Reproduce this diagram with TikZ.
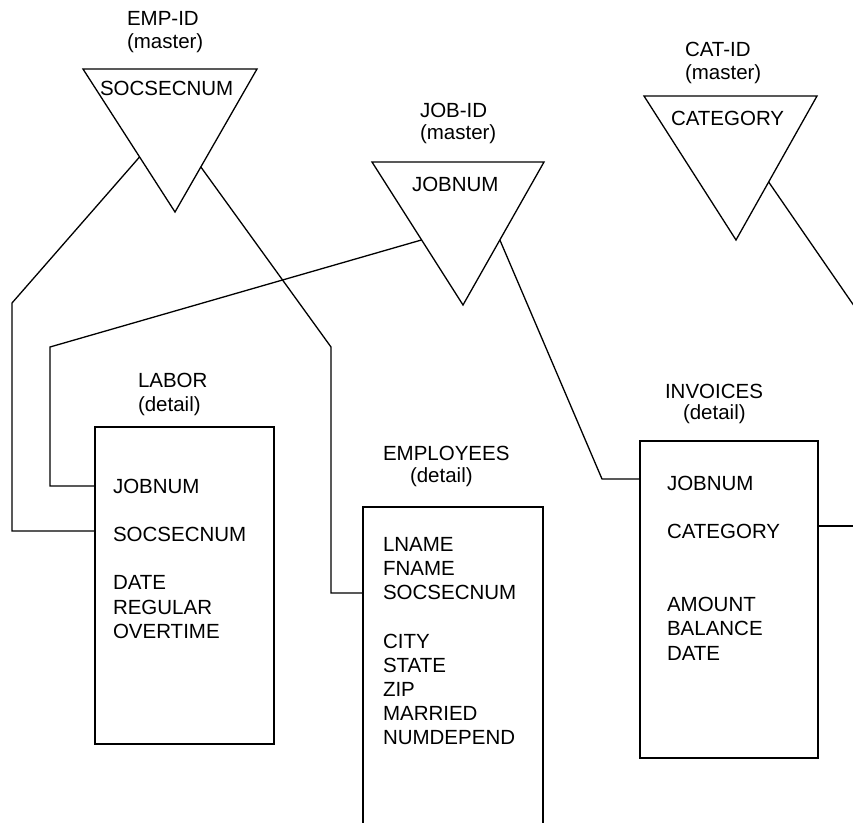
\documentclass[tikz,border=0pt]{standalone}
\usepackage{fontspec}
\setmainfont{Liberation Sans}
\usetikzlibrary{calc}
\newcommand\fldfont{\fontsize{20.5}{24}\selectfont}
\tikzset{
  lbl/.style={font=\fldfont, inner sep=0pt, outer sep=0pt, anchor=base west},
  tbl/.style={draw, line width=1.3pt, inner sep=0pt, outer sep=0pt},
  link/.style={line width=1.3pt, line join=miter},
  tri/.style={line width=1.3pt, line join=miter}
}
\begin{document}
\begin{tikzpicture}[x=1pt, y=-1pt]
\useasboundingbox (0,0) rectangle (853,822);
\clip (0,0) rectangle (853,822);

% ---------- master triangles ----------
\coordinate (emp-tl) at (83,69);
\coordinate (emp-tr) at (257,69);
\coordinate (emp-ap) at (175,212);
\draw[tri] (emp-tl) -- (emp-tr) -- (emp-ap) -- cycle;
\node[lbl] (emp-t1) at (127,25) {EMP-ID};
\node[lbl] (emp-t2) at (127,48) {(master)};
\node[lbl] (emp-key) at (100,95) {SOCSECNUM};

\coordinate (job-tl) at (372,162);
\coordinate (job-tr) at (544,162);
\coordinate (job-ap) at (463,305);
\draw[tri] (job-tl) -- (job-tr) -- (job-ap) -- cycle;
\node[lbl] (job-t1) at (420,117) {JOB-ID};
\node[lbl] (job-t2) at (420,139) {(master)};
\node[lbl] (job-key) at (412,191.5) {JOBNUM};

\coordinate (cat-tl) at (644,96);
\coordinate (cat-tr) at (817,96);
\coordinate (cat-ap) at (736,240);
\draw[tri] (cat-tl) -- (cat-tr) -- (cat-ap) -- cycle;
\node[lbl] (cat-t1) at (685,56.5) {CAT-ID};
\node[lbl] (cat-t2) at (685,79) {(master)};
\node[lbl] (cat-key) at (671,125) {CATEGORY};

% ---------- detail boxes ----------
\node[tbl, minimum width=179pt, minimum height=317pt] (labor) at (184.5,585.5) {};
\node[lbl] (lab-t1) at (138,387.5) {LABOR};
\node[lbl] (lab-t2) at (138,411.5) {(detail)};
\node[lbl] (lab-job) at (113,493.3) {JOBNUM};
\node[lbl] (lab-ssn) at (113,541.3) {SOCSECNUM};
\foreach \t [count=\i] in {DATE,REGULAR,OVERTIME}
  \node[lbl] (lab-f\i) at (113,{565+24.5*\i}) {\t};

\node[tbl, minimum width=180pt, minimum height=343pt] (employees) at (453,678.5) {};
\node[lbl] (emp-d1) at (383,460.7) {EMPLOYEES};
\node[lbl] (emp-d2) at (410,482.5) {(detail)};
\foreach \t [count=\i] in {LNAME,FNAME,SOCSECNUM}
  \node[lbl] (emp-f\i) at (383,{527.2+24.1*\i}) {\t};
\foreach \t [count=\i] in {CITY,STATE,ZIP,MARRIED,NUMDEPEND}
  \node[lbl] (emp-g\i) at (383,{624.2+24.1*\i}) {\t};

\node[tbl, minimum width=178pt, minimum height=317pt] (invoices) at (729,599.5) {};
\node[lbl] (inv-t1) at (665,398.3) {INVOICES};
\node[lbl] (inv-t2) at (683,419.7) {(detail)};
\node[lbl] (inv-job) at (667,490.5) {JOBNUM};
\node[lbl] (inv-cat) at (667,538.3) {CATEGORY};
\foreach \t [count=\i] in {AMOUNT,BALANCE,DATE}
  \node[lbl] (inv-f\i) at (667,{587.5+24.2*\i}) {\t};

% ---------- connectors ----------
\coordinate (empL) at ($(emp-tl)!0.615!(emp-ap)$);
\coordinate (empR) at ($(emp-tr)!0.685!(emp-ap)$);
\coordinate (jobL) at ($(job-tl)!0.545!(job-ap)$);
\coordinate (jobR) at ($(job-tr)!0.545!(job-ap)$);
\coordinate (catR) at ($(cat-tr)!0.597!(cat-ap)$);

\coordinate (b1) at (12,303);
\coordinate (b2) at (12,531);
\draw[link] (empL) -- (b1) -- (b2) -- (b2 -| labor.west);

\coordinate (b3) at (331,347);
\coordinate (b4) at (331,593);
\draw[link] (empR) -- (b3) -- (b4) -- (b4 -| employees.west);

\coordinate (b5) at (50,347);
\coordinate (b6) at (50,486);
\draw[link] (jobL) -- (b5) -- (b6) -- (b6 -| labor.west);

\coordinate (b7) at (602,479);
\draw[link] (jobR) -- (b7) -- (b7 -| invoices.west);

\coordinate (b8) at (870,526);
\draw[link] (b8 -| invoices.east) -- (b8);

\coordinate (b9) at (870,329);
\draw[link] (catR) -- (b9);
\end{tikzpicture}
\end{document}
